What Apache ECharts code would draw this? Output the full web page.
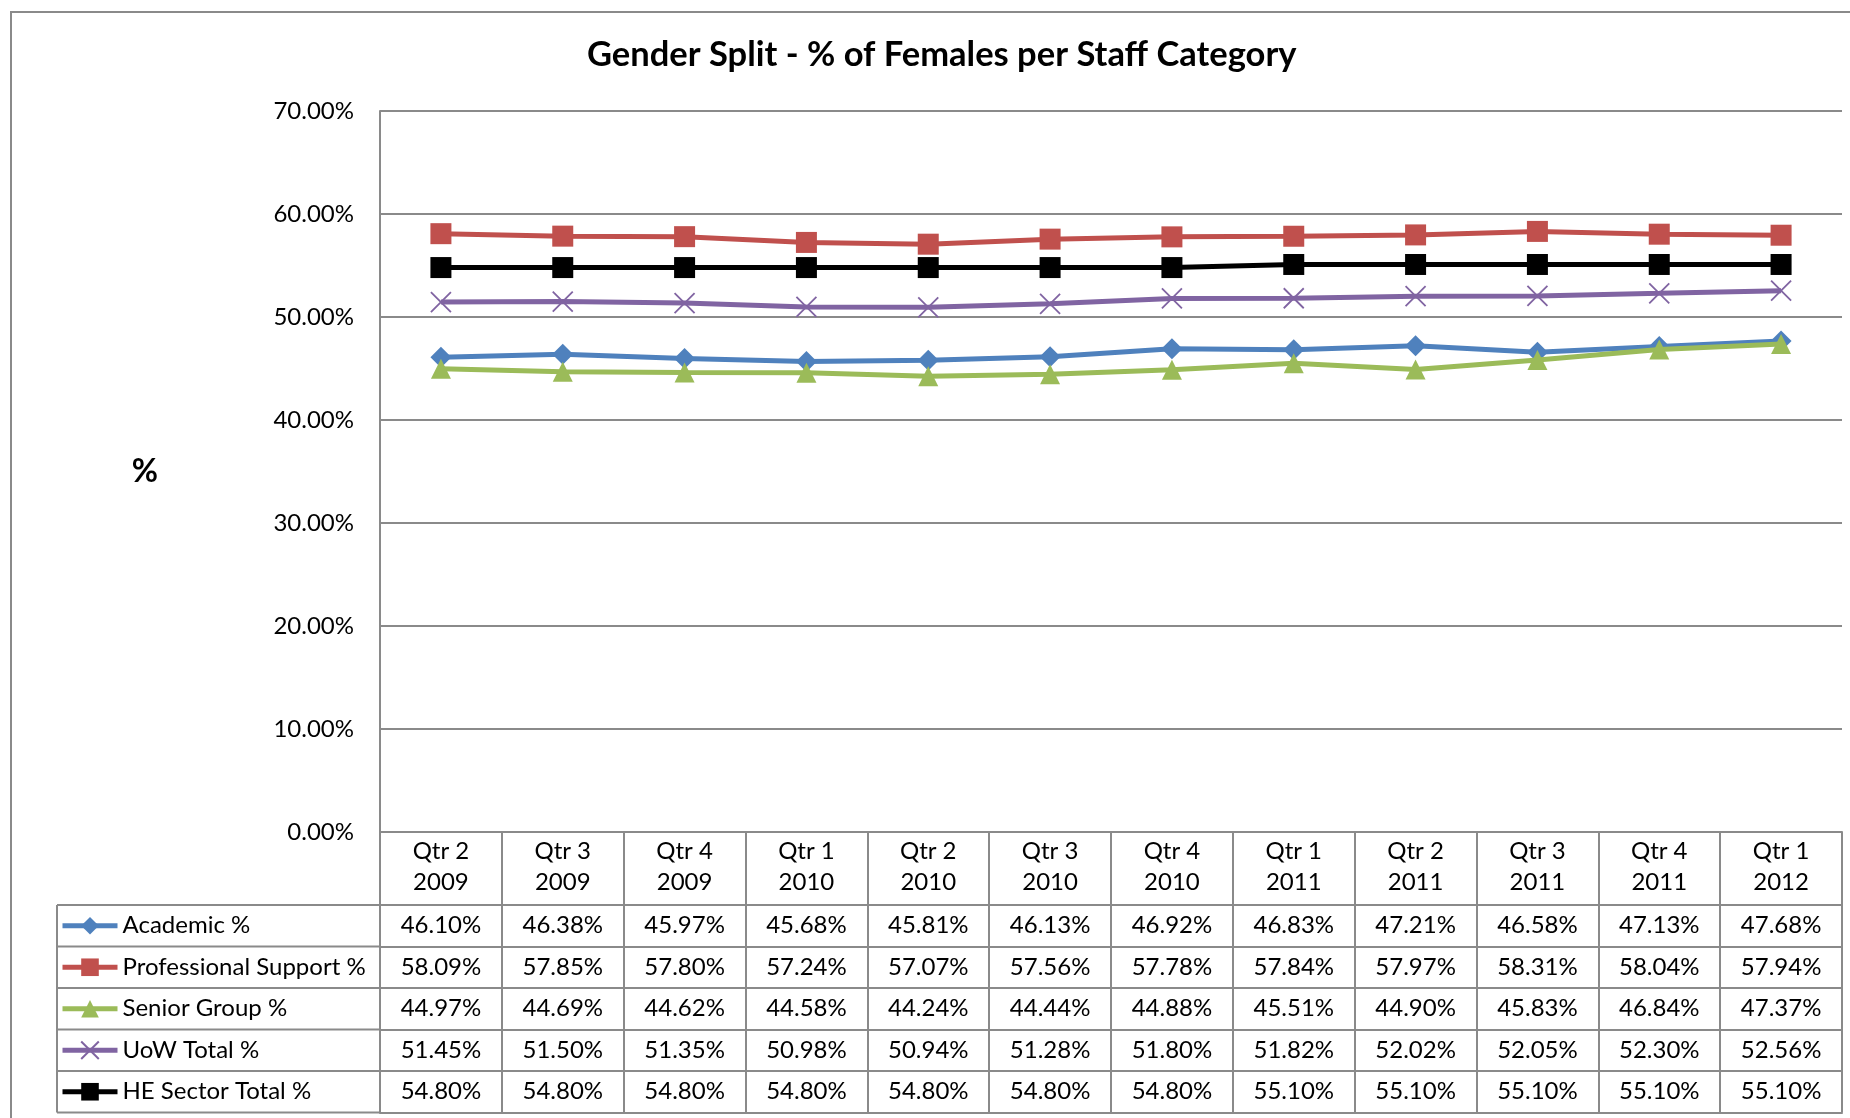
<!DOCTYPE html>
<html>
<head>
<meta charset="utf-8">
<script src="https://cdn.jsdelivr.net/npm/echarts@6/dist/echarts.min.js"></script>
<style>
html,body{margin:0;padding:0;background:#fff;}
#chart{width:1850px;height:1118px;}
</style>
</head>
<body>
<div id="chart"></div>
<script>
// ---- data ----
var quarters = ['Qtr 2','Qtr 3','Qtr 4','Qtr 1','Qtr 2','Qtr 3','Qtr 4','Qtr 1','Qtr 2','Qtr 3','Qtr 4','Qtr 1'];
var years = ['2009','2009','2009','2010','2010','2010','2010','2011','2011','2011','2011','2012'];
var seriesNames = ['Academic %','Professional Support %','Senior Group %','UoW Total %','HE Sector Total %'];
var academic = [46.10,46.38,45.97,45.68,45.81,46.13,46.92,46.83,47.21,46.58,47.13,47.68];
var professional = [58.09,57.85,57.80,57.24,57.07,57.56,57.78,57.84,57.97,58.31,58.04,57.94];
var senior = [44.97,44.69,44.62,44.58,44.24,44.44,44.88,45.51,44.90,45.83,46.84,47.37];
var uow = [51.45,51.50,51.35,50.98,50.94,51.28,51.80,51.82,52.02,52.05,52.30,52.56];
var heSector = [54.80,54.80,54.80,54.80,54.80,54.80,54.80,55.10,55.10,55.10,55.10,55.10];
var yTicks = [0,10,20,30,40,50,60,70];

// ---- layout / style ----
var FONT = 'Lato';
var GRAY = '#8a8a8a';
var gridLeft = 380, gridRight = 8, gridTop = 111, gridBottomY = 832;
var headerH = 73, rowH = 41.5;
var tableLeft = 57;
var colors = ['#4F81BD','#C0504D','#9BBB59','#8064A2','#000000'];
var symbols = ['diamond','rect','triangle','path://M0,0L10,10M10,0L0,10','rect'];
var symSizes = [21,21,20,20,21];
var allSeries = [academic, professional, senior, uow, heSector];

var categories = quarters.map(function(q,i){ return q + '\n' + years[i]; });
function fmt(v){ return v.toFixed(2) + '%'; }

var chart = echarts.init(document.getElementById('chart'));

var xAxes = [{
  type:'category', gridIndex:0, position:'bottom', offset:0, data:categories, boundaryGap:true,
  axisLine:{show:true, lineStyle:{color:GRAY, width:2}},
  axisTick:{show:true, interval:0, length:headerH, lineStyle:{color:GRAY, width:2}},
  axisLabel:{interval:0, margin:4, lineHeight:31, fontSize:24, fontFamily:FONT, color:'#000'}
}];
allSeries.forEach(function(arr, k){
  xAxes.push({
    type:'category', gridIndex:0, position:'bottom', offset:headerH + k*rowH, data:categories, boundaryGap:true,
    axisLine:{show:true, lineStyle:{color:GRAY, width:2}},
    axisTick:{show:true, interval:0, length:rowH, lineStyle:{color:GRAY, width:2}},
    axisLabel:{interval:0, margin:8, lineHeight:25, fontSize:24, fontFamily:FONT, color:'#000',
      formatter:function(val, idx){ return fmt(arr[idx]); }}
  });
});
xAxes.push({
  type:'category', gridIndex:0, position:'bottom', offset:headerH + allSeries.length*rowH, data:categories,
  axisLine:{show:true, lineStyle:{color:GRAY, width:2}},
  axisTick:{show:false}, axisLabel:{show:false}
});

var series = allSeries.map(function(arr, k){
  var s = {
    name: seriesNames[k], type:'line', xAxisIndex:0, yAxisIndex:0, data:arr,
    symbol: symbols[k], symbolSize: symSizes[k],
    lineStyle:{color:colors[k], width:5},
    itemStyle:{color:colors[k]},
    z: 2 + k
  };
  if (k === 3) {
    s.itemStyle = {color:colors[k], borderColor:colors[k], borderWidth:1.8};
  }
  return s;
});

// table borders for legend column
var tableTop = gridBottomY + headerH;
var graphics = [{
  type:'rect', silent:true, z:-1,
  shape:{x:11, y:12, width:1900, height:1200},
  style:{fill:'none', stroke:GRAY, lineWidth:2}
}];
for (var r = 0; r <= allSeries.length; r++) {
  graphics.push({type:'line', silent:true,
    shape:{x1:tableLeft, y1:tableTop + r*rowH, x2:gridLeft, y2:tableTop + r*rowH},
    style:{stroke:GRAY, lineWidth:2}});
}
graphics.push({type:'line', silent:true,
  shape:{x1:tableLeft, y1:tableTop, x2:tableLeft, y2:tableTop + allSeries.length*rowH},
  style:{stroke:GRAY, lineWidth:2}});

var option = {
  animation:false,
  backgroundColor:'#fff',
  title:{
    text:'Gender Split - % of Females per Staff Category',
    left:587, top:36, padding:0,
    textStyle:{fontFamily:FONT, fontWeight:'bold', fontSize:34.5, lineHeight:38, color:'#000'}
  },
  grid:{left:gridLeft, right:gridRight, top:gridTop, bottom:1118 - gridBottomY, containLabel:false},
  legend:{
    orient:'vertical', left:60, top:tableTop + rowH/2 - 12, padding:0,
    itemWidth:55, itemHeight:22, itemGap:rowH - 24, selectedMode:false,
    lineStyle:{width:5},
    textStyle:{fontFamily:FONT, fontSize:24, lineHeight:24, color:'#000'},
    data: seriesNames
  },
  xAxis: xAxes,
  yAxis:{
    type:'value', min:yTicks[0], max:yTicks[yTicks.length-1], interval:10,
    name:'%', nameLocation:'middle', nameRotate:0, nameGap:222,
    nameTextStyle:{fontFamily:FONT, fontWeight:'bold', fontSize:32, color:'#000'},
    axisLine:{show:true, lineStyle:{color:GRAY, width:2}},
    axisTick:{show:false},
    splitLine:{show:true, lineStyle:{color:GRAY, width:2}},
    axisLabel:{margin:26, fontSize:24, fontFamily:FONT, color:'#000',
      formatter:function(v){ return v.toFixed(2) + '%'; }}
  },
  graphic: graphics,
  series: series
};
chart.setOption(option);
</script>
</body>
</html>
